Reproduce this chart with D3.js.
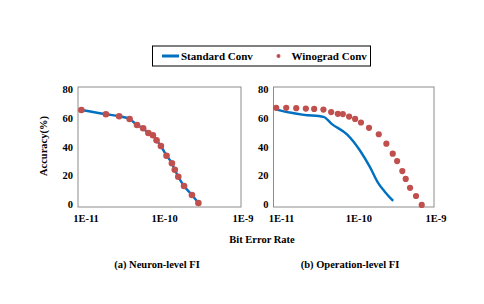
<!DOCTYPE html>
<html>
<head>
<meta charset="utf-8">
<script src="https://cdn.jsdelivr.net/npm/d3@7"></script>
<style>
  body { margin: 0; background: #fff; }
  svg text { font-family: "Liberation Serif", "Times New Roman", serif; font-weight: bold; fill: #000; }
</style>
</head>
<body>
<div id="chart"></div>
<script>
// data
const neuronBER = [1.1e-11, 2.2e-11, 3.2e-11, 4.3e-11, 5.3e-11, 6.3e-11, 7.3e-11, 8.3e-11, 9.2e-11,
                   1.04e-10, 1.22e-10, 1.42e-10, 1.54e-10, 1.7e-10, 2.0e-10, 2.5e-10, 3.0e-10];
const neuronStd = [65.5, 62.6, 61.2, 59.3, 55.2, 52.9, 49.7, 48.1, 44.6, 40.7, 34.0, 28.8, 24.3, 19.5, 13.1, 6.9, 1.4];
const neuronWino = [65.5, 62.6, 61.2, 59.3, 55.2, 52.9, 49.7, 48.1, 44.6, 40.7, 34.0, 28.8, 24.3, 19.5, 13.1, 6.9, 1.4];

const opStdBER = [1.05e-11, 1.6e-11, 2.4e-11, 4.2e-11, 5.3e-11, 8.3e-11, 1.2e-10, 1.6e-10, 2.0e-10, 2.45e-10, 3.1e-10];
const opStd = [66.0, 63.8, 62.2, 60.8, 56.0, 48.5, 37.4, 25.9, 15.5, 9.0, 2.8];

const opWinoBER = [1.08e-11, 1.44e-11, 1.92e-11, 2.53e-11, 3.21e-11, 4.19e-11, 5.23e-11, 6.33e-11, 7.31e-11,
                   8.75e-11, 1.04e-10, 1.23e-10, 1.55e-10, 2.05e-10, 2.55e-10, 3.06e-10, 3.47e-10, 4.03e-10,
                   4.44e-10, 5.03e-10, 5.97e-10, 7.03e-10];
const opWino = [67.0, 67.0, 66.8, 66.5, 66.3, 65.8, 64.1, 62.9, 62.7, 61.0, 59.4, 56.9, 53.2, 48.8, 42.3,
                35.4, 30.3, 23.4, 18.0, 11.8, 6.2, 0];

const xTicks = [1e-11, 1e-10, 1e-9];
const xTickLabels = ["1E-11", "1E-10", "1E-9"];
const yTicks = [0, 20, 40, 60, 80];
const seriesNames = ["Standard Conv", "Winograd Conv"];
const captions = ["(a) Neuron-level FI", "(b) Operation-level FI"];

const width = 484, height = 304;
const blue = "#0070c0", red = "#c0504d";

const svg = d3.select("#chart").append("svg")
    .attr("width", width)
    .attr("height", height);

const panels = [
    { x0: 78, x1: 241, line: { x: neuronBER, y: neuronStd }, dots: { x: neuronBER, y: neuronWino }, r: 3.3, caption: captions[0], capX: 157 },
    { x0: 273.5, x1: 434, line: { x: opStdBER, y: opStd }, dots: { x: opWinoBER, y: opWino }, r: 3.1, caption: captions[1], capX: 350 }
];

const plotTop = 87, plotBottom = 207;
// label nudges, the first label sits further right like in the source
const labelShift = [8, 5, 2];

panels.forEach(p => {
    const x = d3.scaleLog().domain([1e-11, 1e-9]).range([p.x0, p.x1]);
    const y = d3.scaleLinear().domain([-1.4, 81.4]).range([plotBottom, plotTop]);

    const g = svg.append("g");

    g.append("rect")
        .attr("x", p.x0).attr("y", plotTop)
        .attr("width", p.x1 - p.x0).attr("height", plotBottom - plotTop)
        .attr("fill", "none")
        .attr("stroke", "#8c8c8c")
        .attr("stroke-width", 1);

    g.selectAll(".ylab").data(yTicks).enter()
        .append("text")
        .attr("x", p.x0 - 5)
        .attr("y", d => y(d) + 3.5)
        .attr("text-anchor", "end")
        .attr("font-size", 10.5)
        .text(d => d);

    g.selectAll(".xlab").data(xTicks).enter()
        .append("text")
        .attr("x", (d, i) => x(d) + labelShift[i])
        .attr("y", 222)
        .attr("text-anchor", "middle")
        .attr("font-size", 10.5)
        .text((d, i) => xTickLabels[i]);

    const lineData = p.line.x.map((v, i) => [v, p.line.y[i]]);
    g.append("path")
        .datum(lineData)
        .attr("fill", "none")
        .attr("stroke", blue)
        .attr("stroke-width", 2.4)
        .attr("stroke-linejoin", "round")
        .attr("d", d3.line().x(d => x(d[0])).y(d => y(d[1])).curve(d3.curveMonotoneX));

    const dotData = p.dots.x.map((v, i) => [v, p.dots.y[i]]);
    g.selectAll(".dot").data(dotData).enter()
        .append("circle")
        .attr("cx", d => x(d[0]))
        .attr("cy", d => y(d[1]))
        .attr("r", p.r)
        .attr("fill", red);

    svg.append("text")
        .attr("x", p.capX).attr("y", 268)
        .attr("text-anchor", "middle")
        .attr("font-size", 10.5)
        .text(p.caption);
});

// shared axis titles
svg.append("text")
    .attr("transform", "translate(47,146) rotate(-90)")
    .attr("text-anchor", "middle")
    .attr("font-size", 10.5)
    .text("Accuracy(%)");

svg.append("text")
    .attr("x", 262).attr("y", 243)
    .attr("text-anchor", "middle")
    .attr("font-size", 10.5)
    .text("Bit Error Rate");

// legend
const legend = svg.append("g");
legend.append("rect")
    .attr("x", 152.5).attr("y", 46)
    .attr("width", 218).attr("height", 20)
    .attr("fill", "#fff")
    .attr("stroke", "#000")
    .attr("stroke-width", 1);
legend.append("line")
    .attr("x1", 162).attr("x2", 179)
    .attr("y1", 56).attr("y2", 56)
    .attr("stroke", blue)
    .attr("stroke-width", 3);
legend.append("text")
    .attr("x", 181).attr("y", 60)
    .attr("font-size", 11)
    .text(seriesNames[0]);
legend.append("circle")
    .attr("cx", 278.5).attr("cy", 56)
    .attr("r", 2)
    .attr("fill", red);
legend.append("text")
    .attr("x", 291.5).attr("y", 60)
    .attr("font-size", 11)
    .text(seriesNames[1]);
</script>
</body>
</html>
